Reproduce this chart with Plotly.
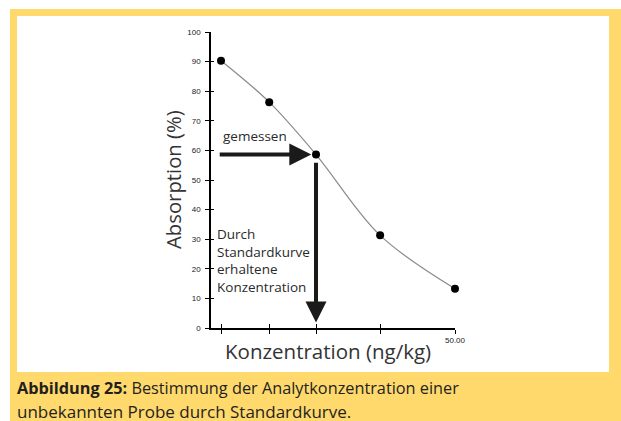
import plotly.graph_objects as go

# ---- data ----
concentration = [0, 10.3, 20.3, 34, 50]
absorption = [90.3, 76.3, 58.6, 31.3, 13.3]
y_tick_values = list(range(0, 101, 10))
x_tick_labels = ["", "", "", "", "50.00"]
measured_absorption = 58.6
derived_concentration = 20.3

W, H = 621, 421
L, R, T, B = 211, 166, 32, 93
PW, PH = W - L - R, H - T - B
YELLOW = "#FFD96C"
TEXT = "#2a2a2a"
X_RANGE = [-2.14, 50]
Y_RANGE = [0, 100]


def px(x):
    return (x - L) / PW


def py(y):
    return (H - B - y) / PH


fig = go.Figure()

fig.add_trace(go.Scatter(
    x=concentration, y=absorption, mode="lines",
    line=dict(color="#8a8a8a", width=1.2, shape="spline", smoothing=1.0),
    hoverinfo="skip", cliponaxis=False, showlegend=False))

fig.add_trace(go.Scatter(
    x=concentration, y=absorption, mode="markers",
    marker=dict(color="black", size=8),
    cliponaxis=False, showlegend=False))

# invisible trace that holds the overlay axes (inner half of crossing ticks)
fig.add_trace(go.Scatter(
    x=[concentration[0]], y=[absorption[0]], xaxis="x2", yaxis="y2",
    mode="markers", marker=dict(opacity=0), hoverinfo="skip",
    showlegend=False))

shapes = [
    dict(type="rect", xref="paper", yref="paper", x0=px(10), x1=px(621),
         y0=py(421), y1=py(9), fillcolor=YELLOW, line_width=0, layer="below"),
    dict(type="rect", xref="paper", yref="paper", x0=px(17), x1=px(609),
         y0=py(372), y1=py(16), fillcolor="white", line_width=0, layer="below"),
]

annotations = [
    # horizontal arrow: measured absorption
    dict(x=derived_concentration - 1.0, y=measured_absorption,
         ax=-0.6, ay=measured_absorption, xref="x", yref="y",
         axref="x", ayref="y", showarrow=True, arrowhead=2,
         arrowwidth=4, arrowsize=1.1, arrowcolor="#1a1a1a", text="",
         standoff=0, startstandoff=0),
    # vertical arrow: derived concentration
    dict(x=derived_concentration, y=1.9,
         ax=derived_concentration, ay=measured_absorption - 2.3,
         xref="x", yref="y", axref="x", ayref="y", showarrow=True,
         arrowhead=2, arrowwidth=4, arrowsize=1.05, arrowcolor="#1a1a1a",
         text="", standoff=0, startstandoff=0),
    dict(x=px(221), y=py(136), xref="paper", yref="paper", xanchor="left",
         yanchor="middle", showarrow=False, text="gemessen",
         font=dict(family="Open Sans", size=13.5, color=TEXT)),
    dict(x=px(215), y=py(260), xref="paper", yref="paper", xanchor="left",
         yanchor="middle", align="left", showarrow=False,
         text="Durch<br>Standardkurve<br>erhaltene<br>Konzentration",
         font=dict(family="Open Sans", size=13.5, color=TEXT)),
    dict(x=px(173), y=py(180), xref="paper", yref="paper", xanchor="center",
         yanchor="middle", textangle=-90, showarrow=False,
         text="Absorption (%)",
         font=dict(family="Open Sans", size=20.3, color="#333333")),
    dict(x=px(328), y=py(351), xref="paper", yref="paper", xanchor="center",
         yanchor="middle", showarrow=False, text="Konzentration (ng/kg)",
         font=dict(family="Open Sans", size=20.5, color="#333333")),
    dict(x=px(15), y=py(388), xref="paper", yref="paper", xanchor="left",
         yanchor="middle", showarrow=False,
         text="<b>Abbildung 25:</b> Bestimmung der Analytkonzentration einer",
         font=dict(family="Open Sans", size=16.3, color="#231f20")),
    dict(x=px(15), y=py(411), xref="paper", yref="paper", xanchor="left",
         yanchor="middle", showarrow=False,
         text="unbekannten Probe durch Standardkurve.",
         font=dict(family="Open Sans", size=17, color="#231f20")),
]

tick_font = dict(family="Arial", size=8, color="#222")

fig.update_layout(
    width=W, height=H,
    margin=dict(l=L, r=R, t=T, b=B, pad=0),
    paper_bgcolor="white", plot_bgcolor="rgba(0,0,0,0)",
    shapes=shapes, annotations=annotations, showlegend=False,
    xaxis=dict(range=X_RANGE, tickmode="array", tickvals=concentration,
               ticktext=x_tick_labels, ticks="outside", ticklen=4,
               tickwidth=1.2, tickcolor="black", showline=True,
               linecolor="black", linewidth=1.5, showgrid=False,
               zeroline=False, tickfont=tick_font),
    yaxis=dict(range=Y_RANGE, tickmode="array", tickvals=y_tick_values,
               ticks="outside", ticklen=4, tickwidth=1.2, tickcolor="black",
               showline=True, linecolor="black", linewidth=1.5,
               showgrid=False, zeroline=False, ticklabelstandoff=3,
               tickfont=tick_font),
    xaxis2=dict(range=X_RANGE, overlaying="x", anchor="y2", side="bottom",
                tickmode="array", tickvals=concentration, ticks="inside",
                ticklen=4, tickwidth=1.2, tickcolor="black",
                showticklabels=False, showline=False, showgrid=False,
                zeroline=False),
    yaxis2=dict(range=Y_RANGE, overlaying="y", anchor="x2", side="left",
                tickmode="array", tickvals=y_tick_values, ticks="inside",
                ticklen=3, tickwidth=1.2, tickcolor="black",
                showticklabels=False, showline=False, showgrid=False,
                zeroline=False),
)

fig.write_html("out.html", config={"displayModeBar": False},
               post_script="document.body.style.margin='0';")
